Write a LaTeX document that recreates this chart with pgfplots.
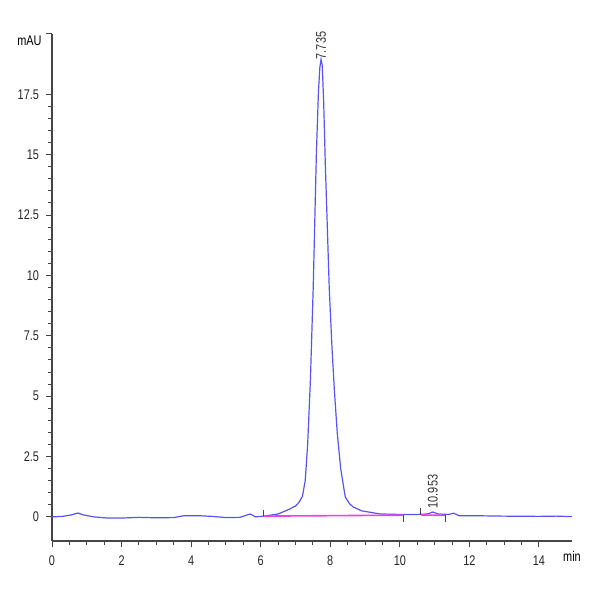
\documentclass[border=0pt]{standalone}
\usepackage{pgfplots}
\pgfplotsset{compat=1.18}
\usepackage{fontspec}
\setmainfont{Liberation Sans}[FakeStretch=0.78]

\definecolor{trace}{RGB}{85,85,245}
\definecolor{base}{RGB}{245,60,235}
\definecolor{axgray}{RGB}{70,70,70}

\begin{document}
\begin{tikzpicture}[font=\fontsize{7}{8}\selectfont]
\useasboundingbox (-26pt,-29.5pt) rectangle (274pt,270.5pt);
\begin{axis}[
  at={(0,0)}, anchor=south west,
  scale only axis, width=260pt, height=253.5pt,
  xmin=0, xmax=14.95, ymin=-1, ymax=20,
  axis lines=left, axis line style={-, axgray, line width=0.6pt},
  xtick={0,2,...,14}, minor x tick num=3,
  ytick={0,2.5,5,7.5,10,12.5,15,17.5}, minor y tick num=4,
  extra y ticks={20}, extra y tick labels={},
  tick align=outside,
  major tick length=3pt, minor tick length=2pt,
  tick style={axgray, line width=0.5pt},
  /pgf/number format/fixed,
  /pgf/number format/assume math mode=true,
  tick label style={text=black!85},
  xticklabel style={yshift=-1pt},
  clip=false,
]
% blue trace
\addplot[trace, line width=0.6pt] coordinates {
 (0,0.0) (0.3,0.02) (0.55,0.08) (0.75,0.16) (0.9,0.08) (1.2,0.0) (1.6,-0.05)
 (2.0,-0.05) (2.5,-0.02) (3.0,-0.04) (3.5,-0.03) (3.8,0.05) (4.2,0.05)
 (4.6,0.02) (5.0,-0.03) (5.4,-0.02) (5.7,0.12) (5.85,0.0) (6.1,0.03)
 (6.5,0.12) (6.8,0.3) (7.0,0.45) (7.1,0.6) (7.2,0.85) (7.28,1.5)
 (7.35,3.0) (7.43,5.7) (7.51,9.5) (7.6,15.0) (7.66,17.6) (7.70,18.6)
 (7.735,18.95) (7.77,18.7) (7.81,17.2) (7.86,14.5) (7.92,11.8)
 (7.97,9.5) (8.05,7.0) (8.12,5.2) (8.2,3.5) (8.3,2.0) (8.43,0.83)
 (8.55,0.55) (8.66,0.41) (8.9,0.25) (9.43,0.12) (10.0,0.1) (10.5,0.1)
 (10.8,0.12) (10.95,0.2) (11.1,0.12) (11.4,0.1) (11.55,0.15) (11.7,0.05)
 (12.0,0.05) (13.0,0.03) (14.0,0.02) (14.5,0.03) (14.95,0.01)
};
% integration baselines
\addplot[base, line width=0.8pt] coordinates {(6.08,0.03) (10.1,0.07)};
\addplot[base, line width=0.8pt] coordinates {(10.6,0.08) (11.3,0.06)};
% peak start/end markers
\addplot[axgray, line width=0.4pt] coordinates {(6.08,0.03) (6.08,0.3)};
\addplot[axgray, line width=0.4pt] coordinates {(10.1,0.07) (10.1,-0.2)};
\addplot[axgray, line width=0.4pt] coordinates {(10.6,0.08) (10.6,0.35)};
\addplot[axgray, line width=0.4pt] coordinates {(11.3,0.06) (11.3,-0.2)};
% labels
\node[rotate=90, anchor=west, inner sep=0.5pt, text=black!80] at (axis cs:7.735,18.9) {7.735};
\node[rotate=90, anchor=west, inner sep=0.5pt, text=black!80] at (axis cs:10.95,0.3) {10.953};
\node[anchor=east, inner sep=1pt] at ([xshift=-4pt,yshift=-3.5pt]rel axis cs:0,1) {mAU};
\node[anchor=north, inner sep=1pt] at ([yshift=-4pt]rel axis cs:1,0) {min};
\end{axis}
\end{tikzpicture}
\end{document}
